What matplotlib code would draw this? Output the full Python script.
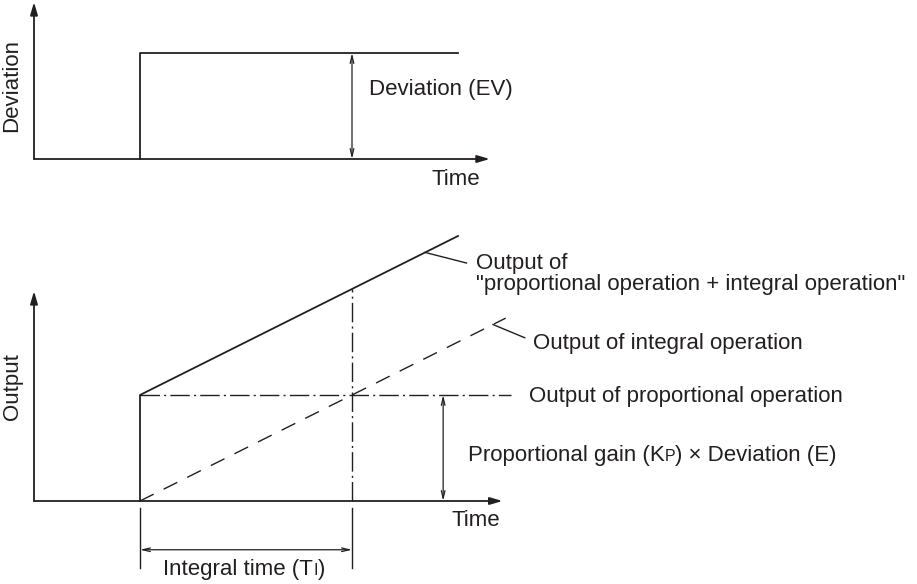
import matplotlib.pyplot as plt
from matplotlib.offsetbox import TextArea, HPacker, AnnotationBbox

plt.rcParams['font.family'] = ['Liberation Sans', 'DejaVu Sans']

# --- diagram values (time units, output units) ---
t_step = 1.0            # moment the deviation appears
ti = 2.0                # integral time
dev_level = 1.0         # deviation EV
dev_end = 4.0
dev_arrow_t = 3.0
kp_e = 1.0              # proportional output Kp x E
pi_slope = 0.5          # integral output rise per time unit
pi_end = 4.0
i_end = 4.45
p_end = 4.5
gain_arrow_t = 3.86
axis_tip_top = (4.3, 1.48)
axis_tip_bot = (4.42, 1.98)

INK = '#231f20'
FS = 16
PX = 106  # pixels per unit

fig = plt.figure(figsize=(9.17, 5.84), dpi=100)


def panel(top_px, bot_px, base_px):
    ax = fig.add_axes([0, 1 - bot_px / 584, 1, (bot_px - top_px) / 584])
    ax.set_xlim(-34 / PX, (917 - 34) / PX)
    ax.set_ylim(-(bot_px - base_px) / PX, (base_px - top_px) / PX)
    ax.axis('off')
    return ax


def axis_arrow(ax, x0, y0, x1, y1):
    ax.annotate('', xy=(x1, y1), xytext=(x0, y0),
                arrowprops=dict(arrowstyle='-|>,head_length=0.75,head_width=0.22',
                                color=INK, lw=1.3, shrinkA=0, shrinkB=0))


def dim_arrow(ax, x0, y0, x1, y1):
    ax.annotate('', xy=(x1, y1), xytext=(x0, y0),
                arrowprops=dict(arrowstyle='<->,head_length=0.55,head_width=0.13',
                                color=INK, lw=0.9, shrinkA=0, shrinkB=0))


def sub_text(ax, x, y, main, sub, tail):
    parts = [TextArea(main, textprops=dict(fontsize=FS, color=INK)),
             TextArea(sub, textprops=dict(fontsize=FS * 0.72, color=INK)),
             TextArea(tail, textprops=dict(fontsize=FS, color=INK))]
    box = HPacker(children=parts, align='baseline', pad=0, sep=0)
    ab = AnnotationBbox(box, (x, y), box_alignment=(0, 0.5), frameon=False,
                        pad=0, annotation_clip=False)
    ax.add_artist(ab)


# ---------------- top: deviation ----------------
ax1 = panel(0, 200, 159)
axis_arrow(ax1, 0, 0, 0, axis_tip_top[1])
axis_arrow(ax1, 0, 0, axis_tip_top[0], 0)
ax1.plot([t_step, t_step, dev_end], [0, dev_level, dev_level], color=INK, lw=1.3)
dim_arrow(ax1, dev_arrow_t, 0, dev_arrow_t, dev_level)
ax1.text(dev_arrow_t + 0.16, 0.66, 'Deviation (EV)', fontsize=FS, color=INK, va='center')
ax1.text(3.75, -0.19, 'Time', fontsize=FS, color=INK, va='center')
ax1.text(-0.21, 0.69, 'Deviation', fontsize=FS, color=INK, rotation=90,
         ha='center', va='center')

# ---------------- bottom: output ----------------
ax2 = panel(200, 584, 501)
axis_arrow(ax2, 0, 0, 0, axis_tip_bot[1])
axis_arrow(ax2, 0, 0, axis_tip_bot[0], 0)

t_ti = t_step + ti
# proportional + integral
ax2.plot([t_step, t_step, pi_end],
         [0, kp_e, kp_e + pi_slope * (pi_end - t_step)], color=INK, lw=1.3)
# integral only
ax2.plot([t_step, i_end], [0, pi_slope * (i_end - t_step)], color=INK, lw=1.0,
         dashes=(11, 8))
# proportional only
ax2.plot([t_step, p_end], [kp_e, kp_e], color=INK, lw=1.0, dashes=(14, 3, 1.5, 3))
ax2.plot([t_ti, t_ti], [0, kp_e + pi_slope * ti], color=INK, lw=1.0,
         dashes=(14, 3, 1.5, 3))
dim_arrow(ax2, gain_arrow_t, 0, gain_arrow_t, kp_e)

# integral time dimension
for t in (t_step, t_ti):
    ax2.plot([t, t], [-0.066, -0.63], color=INK, lw=1.0)
dim_arrow(ax2, t_step, -0.46, t_ti, -0.46)
sub_text(ax2, 1.22, -0.65, 'Integral time (T', 'I', ')')

# leaders
lx = 3.69
ax2.plot([lx, 4.08], [kp_e + pi_slope * (lx - t_step), 2.245], color=INK, lw=1.0)
lx = 4.33
ax2.plot([lx, 4.63], [pi_slope * (lx - t_step), 1.54], color=INK, lw=1.0)

ax2.text(4.17, 2.245, 'Output of', fontsize=FS, color=INK, va='center')
ax2.text(4.17, 2.045, '"proportional operation + integral operation"', fontsize=FS,
         color=INK, va='center')
ax2.text(4.71, 1.49, 'Output of integral operation', fontsize=FS, color=INK, va='center')
ax2.text(4.67, 0.99, 'Output of proportional operation', fontsize=FS, color=INK,
         va='center')
sub_text(ax2, 4.09, 0.43, 'Proportional gain (K', 'P', ') × Deviation (E)')
ax2.text(3.94, -0.18, 'Time', fontsize=FS, color=INK, va='center')
ax2.text(-0.20, 1.08, 'Output', fontsize=FS, color=INK, rotation=90,
         ha='center', va='center')

fig.savefig('out.png', dpi=100)
